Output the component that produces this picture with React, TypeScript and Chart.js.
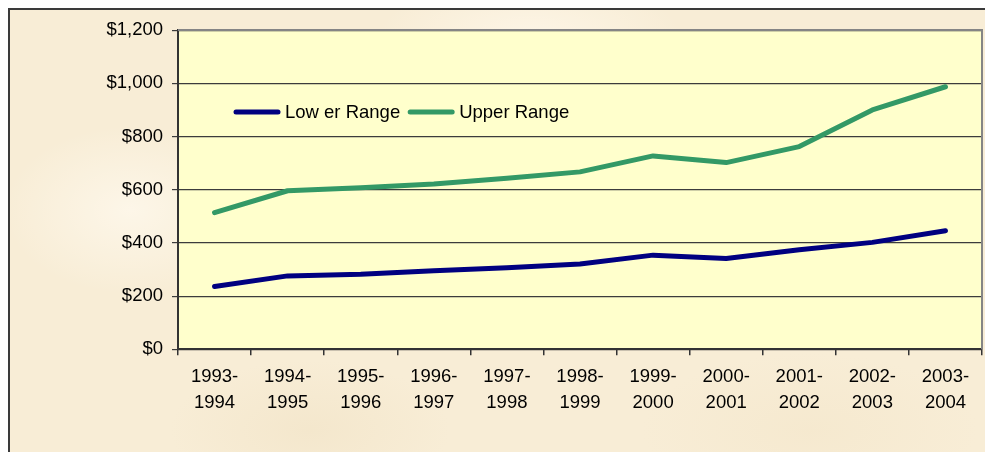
import React, { useEffect, useRef } from "react";
import { Chart, registerables } from "chart.js";

Chart.register(...registerables);

const categories: string[][] = [
  ["1993-", "1994"],
  ["1994-", "1995"],
  ["1995-", "1996"],
  ["1996-", "1997"],
  ["1997-", "1998"],
  ["1998-", "1999"],
  ["1999-", "2000"],
  ["2000-", "2001"],
  ["2001-", "2002"],
  ["2002-", "2003"],
  ["2003-", "2004"],
];

const lowerRange = [236, 276, 282, 295, 307, 321, 354, 341, 374, 402, 446];
const upperRange = [514, 596, 607, 621, 643, 667, 727, 702, 762, 900, 987];

const seriesLabels = ["Low er Range", "Upper Range"];
const seriesColors = ["#000080", "#339966"];

const yMin = 0;
const yMax = 1200;
const yStep = 200;

const FONT = "'Liberation Sans', Arial, sans-serif";
const FONT_SIZE = 18.5;

const plotPlugin = {
  id: "plotDecor",
  beforeDraw(chart: any) {
    const { ctx, chartArea: a } = chart;
    ctx.save();
    ctx.fillStyle = "#FFFFCC";
    ctx.fillRect(a.left, a.top, a.right - a.left, a.bottom - a.top);
    ctx.restore();
  },
  afterDraw(chart: any) {
    const { ctx, chartArea: a } = chart;
    ctx.save();
    // top and right frame of plot area
    ctx.strokeStyle = "#858585";
    ctx.lineWidth = 2;
    ctx.beginPath();
    ctx.moveTo(a.left, a.top);
    ctx.lineTo(a.right, a.top);
    ctx.lineTo(a.right, a.bottom);
    ctx.stroke();

    // legend inside plot area
    ctx.font = `${FONT_SIZE}px ${FONT}`;
    ctx.textBaseline = "middle";
    ctx.textAlign = "left";
    let x = a.left + 56;
    const y = a.top + 82;
    chart.data.datasets.forEach((ds: any) => {
      ctx.strokeStyle = ds.borderColor;
      ctx.lineWidth = 5;
      ctx.lineCap = "round";
      ctx.beginPath();
      ctx.moveTo(x + 2, y);
      ctx.lineTo(x + 44, y);
      ctx.stroke();
      x += 51;
      ctx.fillStyle = "#000";
      ctx.fillText(ds.label, x, y + 1);
      x += ctx.measureText(ds.label).width + 8;
    });
    ctx.restore();
  },
};

export default function App() {
  const ref = useRef<HTMLCanvasElement | null>(null);

  useEffect(() => {
    if (!ref.current) return;
    const chart = new Chart(ref.current, {
      type: "line",
      data: {
        labels: categories,
        datasets: [
          {
            label: seriesLabels[0],
            data: lowerRange,
            borderColor: seriesColors[0],
            backgroundColor: seriesColors[0],
            borderWidth: 5,
            borderCapStyle: "round",
            borderJoinStyle: "round",
            pointRadius: 0,
            tension: 0,
          },
          {
            label: seriesLabels[1],
            data: upperRange,
            borderColor: seriesColors[1],
            backgroundColor: seriesColors[1],
            borderWidth: 5,
            borderCapStyle: "round",
            borderJoinStyle: "round",
            pointRadius: 0,
            tension: 0,
          },
        ],
      },
      options: {
        responsive: false,
        animation: false,
        devicePixelRatio: 1,
        layout: { padding: { top: 20, right: 8, left: 0, bottom: 0 } },
        plugins: {
          legend: { display: false },
          tooltip: { enabled: false },
        },
        scales: {
          x: {
            offset: true,
            grid: {
              offset: true,
              drawOnChartArea: false,
              drawTicks: true,
              tickLength: 6,
              color: "#333",
              lineWidth: 1.5,
            },
            border: { color: "#333", width: 2 },
            ticks: {
              color: "#000",
              font: { family: FONT, size: FONT_SIZE, lineHeight: 1.4 },
              padding: 9,
              maxRotation: 0,
              autoSkip: false,
            },
            afterFit: (scale: any) => {
              scale.height = 105.7;
            },
          },
          y: {
            min: yMin,
            max: yMax,
            grid: {
              color: "#3c3c3c",
              lineWidth: 1.2,
              tickLength: 6,
            },
            border: { color: "#333", width: 2 },
            ticks: {
              stepSize: yStep,
              color: "#000",
              font: { family: FONT, size: FONT_SIZE },
              padding: 9,
              callback: (v: any) => "$" + Number(v).toLocaleString("en-US"),
            },
            afterFit: (scale: any) => {
              scale.width = 168;
            },
          },
        },
      },
      plugins: [plotPlugin],
    });
    return () => chart.destroy();
  }, []);

  const bg =
    "radial-gradient(ellipse 180px 120px at 120px 200px, rgba(255,250,240,0.7), rgba(255,250,240,0) 70%)," +
    "radial-gradient(ellipse 220px 90px at 520px 30px, rgba(255,248,235,0.8), rgba(255,248,235,0) 70%)," +
    "radial-gradient(ellipse 200px 100px at 300px 420px, rgba(240,225,195,0.5), rgba(240,225,195,0) 70%)," +
    "radial-gradient(ellipse 240px 110px at 800px 420px, rgba(243,229,200,0.5), rgba(243,229,200,0) 70%)," +
    "#F8EDD6";

  return (
    <div
      style={{
        position: "fixed",
        left: 8,
        top: 8,
        width: 1000,
        height: 470,
        border: "2px solid #3a3a3a",
        background: bg,
        boxSizing: "border-box",
      }}
    >
      <canvas ref={ref} width={980} height={445} style={{ display: "block" }} />
    </div>
  );
}
